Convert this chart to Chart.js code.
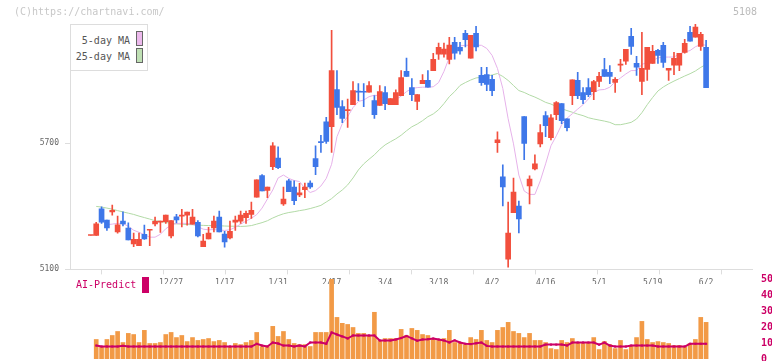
<!DOCTYPE html>
<html>
<head>
<meta charset="utf-8">
<script src="https://cdn.jsdelivr.net/npm/chart.js@4.4.1/dist/chart.umd.min.js"></script>
<style>
  body { margin: 0; width: 772px; height: 361px; overflow: hidden; background: #fff; position: relative; font-family: 'DejaVu Sans Mono', monospace; }
  canvas { position: absolute; left: 0; }
  #c1 { top: 0; }
  #c2 { top: 270px; }
  .t { position: absolute; white-space: nowrap; line-height: 12px; }
  .sw { position: absolute; width: 5px; height: 13px; border: 1px solid #666; }
</style>
</head>
<body>
<canvas id="c1" width="772" height="284"></canvas>
<canvas id="c2" width="772" height="96"></canvas>

<div class="t" style="left:14px;top:6px;font-size:10px;color:#c8c8c8">(C)https://chartnavi.com/</div>
<div class="t" style="left:733px;top:6px;font-size:10px;color:#bbb">5108</div>

<!-- legend box -->
<div style="position:absolute;left:70px;top:24px;width:76px;height:45px;border:1px solid #ddd;background:#fff">
  <div class="t" style="right:17px;top:10px;font-size:10px;color:#555">5-day MA</div>
  <div class="sw" style="left:65px;top:6px;background:#ecb9ec"></div>
  <div class="t" style="right:17px;top:26px;font-size:10px;color:#555">25-day MA</div>
  <div class="sw" style="left:65px;top:23px;background:#bfe0b4"></div>
</div>

<div class="t" style="left:76px;top:279px;font-size:10px;color:#cc0066">AI-Predict</div>
<div style="position:absolute;left:142px;top:277px;width:7px;height:16px;background:#cc0066"></div>

<script>
// 日足 (12/9 〜 6/2)
const open = [5261,5261,5388,5334,5373,5278,5329,5296,5221,5213,
  5267,5286,5316,5324,5326,5259,5349,5353,5358,5315,
  5324,5208,5245,5297,5348,5268,5249,5324,5329,5345,
  5361,5443,5545,5475,5588,5629,5411,5520,5491,5454,
  5478,5510,5626,5707,5801,5777,5954,5873,5854,5882,
  5947,5945,5941,5901,5878,5940,5882,5882,5925,6040,
  5963,5897,5982,5997,6044,6122,6122,6097,6178,6154,
  6221,6103,6221,6021,6025,6002,5702,5539,5148,5369,
  5401,5825,5496,5577,5696,5830,5725,5835,5887,5815,
  5925,5997,5940,5963,5944,5992,6049,6035,5988,6070,
  6089,6207,6078,5992,6049,6078,6140,6164,6046,6070,
  6070,6130,6226,6202,6159,6154];
const high = [5261,5324,5397,5334,5405,5353,5373,5321,5272,5272,
  5310,5289,5348,5329,5358,5332,5361,5385,5372,5385,
  5332,5266,5300,5353,5377,5281,5329,5353,5377,5377,
  5420,5525,5550,5491,5702,5682,5491,5528,5520,5509,
  5510,5520,5687,5736,5822,6235,6044,5901,5909,5992,
  5982,5982,5992,5925,5973,5968,5911,5952,6044,6103,
  6006,5930,6025,6044,6126,6175,6175,6202,6202,6178,
  6235,6211,6254,6059,6059,6021,5753,5596,5420,5534,
  5424,5825,5544,5644,5787,5849,5835,5897,5887,5815,
  6000,6035,5963,6006,5997,6035,6102,6068,6011,6097,
  6145,6245,6111,6226,6154,6164,6145,6178,6054,6130,
  6126,6192,6254,6264,6226,6188];
const low = [5261,5261,5318,5285,5358,5272,5307,5240,5208,5213,
  5242,5213,5307,5276,5318,5249,5321,5302,5310,5315,
  5254,5208,5245,5278,5278,5206,5245,5285,5318,5318,
  5342,5443,5472,5440,5574,5578,5404,5469,5407,5445,
  5440,5485,5550,5655,5698,5655,5835,5796,5774,5882,
  5901,5873,5941,5817,5878,5858,5882,5882,5925,6016,
  5901,5858,5982,5965,6044,6097,6108,6075,6098,6122,
  6156,6103,6137,5973,5949,5925,5655,5401,5111,5369,
  5273,5621,5411,5572,5682,5730,5715,5811,5792,5758,
  5882,5911,5887,5920,5906,5968,6016,5982,5940,6040,
  6073,6121,6021,5930,5997,6078,6078,6059,5997,6025,
  6044,6126,6183,6202,6140,5963];
const close = [5261,5316,5324,5297,5381,5311,5316,5240,5243,5243,
  5245,5289,5328,5329,5358,5332,5335,5358,5372,5348,
  5259,5234,5272,5329,5278,5230,5281,5334,5358,5366,
  5381,5525,5472,5491,5687,5583,5434,5469,5426,5463,
  5491,5491,5588,5702,5707,6044,5869,5817,5857,5949,
  5941,5941,5973,5835,5944,5887,5911,5940,6011,6016,
  5930,5930,5997,5965,6097,6154,6146,6165,6127,6137,
  6191,6211,6156,5987,5978,5949,5715,5491,5272,5467,
  5340,5698,5529,5601,5749,5782,5820,5892,5806,5773,
  6000,5925,5906,5930,5992,6016,6016,6016,6002,6072,
  6145,6159,6060,6055,6154,6135,6116,6083,6054,6102,
  6126,6173,6183,6250,6216,5963];

// 移動平均線 (チャートから読み取り)
const ma5 = [null,null,null,5312,5315,5319,5317,5305,5286,5276,
  5265,5253,5253,5267,5293,5310,5318,5319,5318,5315,
  5303,5291,5288,5289,5287,5285,5288,5300,5315,5329,
  5343,5360,5391,5434,5477,5534,5548,5532,5522,5517,
  5486,5465,5474,5496,5532,5599,5730,5792,5825,5868,
  5897,5904,5920,5927,5923,5909,5905,5905,5923,5944,
  5959,5963,5965,5965,5967,5987,6040,6106,6140,6161,
  6164,6164,6164,6164,6149,6116,6054,5959,5815,5696,
  5548,5472,5456,5456,5520,5601,5687,5734,5787,5818,
  5839,5861,5882,5909,5940,5952,5954,5965,5990,6009,
  6028,6044,6044,6073,6083,6092,6104,6108,6108,6108,
  6123,6132,6139,6157,6168,6164];
const ma25 = [null,5399,5396,5391,5386,5379,5373,5367,5361,5353,
  5346,5339,5331,5328,5323,5319,5316,5315,5313,5312,
  5310,5309,5308,5308,5307,5306,5305,5305,5304,5305,
  5308,5315,5322,5331,5344,5355,5364,5370,5374,5379,
  5383,5389,5396,5404,5420,5436,5458,5477,5501,5534,
  5572,5601,5623,5644,5670,5691,5706,5720,5737,5758,
  5777,5790,5806,5825,5838,5858,5887,5920,5944,5973,
  5987,5999,6009,6012,6018,6023,6030,6016,5997,5973,
  5949,5940,5928,5918,5906,5893,5885,5873,5863,5854,
  5846,5837,5830,5820,5814,5809,5804,5798,5787,5787,
  5792,5798,5814,5844,5882,5916,5947,5966,5981,5994,
  6006,6018,6029,6042,6059,6073];

// 出来高 と AI-Predict
const volume = [null,12.2,7.8,12.2,14.7,17.2,10.3,16,15.3,10.3,
  17.9,9.7,9.7,10.3,15.3,16.6,13.4,14.7,10.9,13.4,
  11.6,12.2,12.8,10.9,11.6,10.3,7.8,9.7,9,10.3,
  11.6,16.6,7.8,7.8,20.4,14.1,17.2,12.2,9.7,9,
  9,7.8,16.6,16.6,16.6,51,26,22.3,21.6,19.7,
  16,16,14.7,29.2,11.6,12.8,12.8,12.8,18.5,14.7,
  19.1,17.9,15.3,14.7,12.2,11.6,12.8,17.9,10.3,10.3,
  9,13.4,12.2,17.9,11.6,10.3,17.9,19.7,22.9,17.2,
  16,13.4,16,11.6,11.6,10.3,6.5,5.9,11.6,10.3,
  12.8,10.3,10.3,10.3,13.4,5.9,10.9,9,6.5,11.6,
  5.9,8.4,13.4,23.5,12.2,10.3,10.9,10.3,9.7,8.4,
  8.4,7.8,9.7,12.2,26,22.9];
const aiPredict = [null,8.4,7.8,7.8,7.8,7.8,8.2,7.8,7.8,7.8,
  7.8,7.8,7.8,7.8,7.8,7.8,7.8,7.8,7.8,7.8,
  7.8,7.8,7.8,7.8,7.8,7.8,7.8,7.8,7.8,7.8,
  7.8,9.5,8.4,7.8,10.3,9.7,8.4,8.4,7.8,8.4,
  7.8,10.3,10.3,10.3,9.5,16.6,15.3,14.1,12.8,14.7,
  14.7,14.7,14.7,14.7,11.6,11.6,11.6,12.2,13.1,14.4,
  12.9,11.4,12.2,12.4,12.8,12.2,11.6,10.3,11.6,10.3,
  9.5,9.3,9.8,10.3,8.2,7.8,7.8,7.8,7.8,7.8,
  7.8,7.8,7.8,7.8,7.8,9,9,9,9,8.4,
  10.3,10.3,10.3,10.3,10.3,9,10.3,8.4,7.8,7.8,
  7.8,8.4,8.4,8.4,8.4,8.4,7.8,7.8,7.8,7.8,
  7.8,7.8,9.5,9.5,9.5,9.5];

// 軸ラベル
const labelIdx = [15, 25, 35, 45, 55, 65, 75, 85, 95, 105, 115];
const tickLabels = ['12/27', '1/17', '1/31', '2/17', '3/4', '3/18', '4/2', '4/16', '5/1', '5/19', '6/2'];
const priceTicks = [5100, 5700];
const volTicks = [0, 10, 20, 30, 40, 50];

const xMin = -3.9, xMax = 123.58;
const mono = 'DejaVu Sans Mono';
const RED = '#f24f3d', BLUE = '#3e77e9';
const idx = close.map((c, i) => i);
const cor = idx.map(i => close[i] >= open[i] ? RED : BLUE);

// ローソク足チャート
new Chart(document.getElementById('c1'), {
  type: 'bar',
  data: {
    datasets: [
      { type: 'bar', label: 'body', data: idx.map(i => ({ x: i, y: [open[i], close[i]] })),
        backgroundColor: cor, barThickness: 5, minBarLength: 1, grouped: false, xAxisID: 'x', yAxisID: 'y' },
      { type: 'bar', label: 'wick', data: idx.map(i => ({ x: i, y: [low[i], high[i]] })),
        backgroundColor: cor, barThickness: 1, grouped: false, xAxisID: 'x', yAxisID: 'y' },
      { type: 'line', label: '5-day MA', data: idx.map(i => ({ x: i, y: ma5[i] })),
        borderColor: '#e6b2ea', borderWidth: 1, pointRadius: 0, tension: 0, xAxisID: 'x', yAxisID: 'y' },
      { type: 'line', label: '25-day MA', data: idx.map(i => ({ x: i, y: ma25[i] })),
        borderColor: '#b2daa6', borderWidth: 1, pointRadius: 0, tension: 0, xAxisID: 'x', yAxisID: 'y' }
    ]
  },
  options: {
    responsive: false,
    animation: false,
    layout: { padding: { left: 0, right: 20, top: 24, bottom: 0 } },
    plugins: { legend: { display: false }, tooltip: { enabled: false } },
    scales: {
      x: {
        type: 'linear', position: 'bottom', min: xMin, max: xMax, offset: false, weight: 1,
        grid: { display: false }, border: { display: false },
        afterBuildTicks: s => { s.ticks = labelIdx.map(v => ({ value: v })); },
        ticks: { autoSkip: false, maxRotation: 0, padding: -4, color: '#666', font: { family: mono, size: 8 },
          callback: v => tickLabels[labelIdx.indexOf(v)] }
      },
      xt: {
        type: 'linear', position: 'bottom', min: xMin, max: xMax, offset: false, weight: 0,
        grid: { drawOnChartArea: false, tickLength: 5, color: '#ddd' }, border: { color: '#ddd' },
        ticks: { display: false },
        afterBuildTicks: s => {
          const t = [];
          for (let k = 0; k <= 11; k++) t.push({ value: xMin + k * (xMax - xMin) / 11 });
          s.ticks = t;
        }
      },
      y: {
        type: 'linear', position: 'left', min: 5100, max: 6265,
        afterBuildTicks: s => { s.ticks = priceTicks.map(v => ({ value: v })); },
        afterFit: s => { s.width = 70; },
        grid: { drawOnChartArea: false, tickLength: 5, color: '#ddd' }, border: { color: '#ddd' },
        ticks: { padding: 6, color: '#666', font: { family: mono, size: 8 }, callback: v => String(v) }
      }
    }
  }
});

// 出来高チャート
new Chart(document.getElementById('c2'), {
  type: 'bar',
  data: {
    datasets: [
      { type: 'line', label: 'AI-Predict', data: idx.map(i => ({ x: i, y: aiPredict[i] })),
        borderColor: '#cc0066', borderWidth: 2, pointStyle: 'rect', pointRadius: 1.5,
        pointBackgroundColor: '#cc0066', pointBorderWidth: 0, tension: 0, yAxisID: 'yv' },
      { type: 'bar', label: 'Volume', data: idx.map(i => ({ x: i, y: volume[i] })),
        backgroundColor: '#f29a46', barThickness: 4, grouped: false, yAxisID: 'yv' }
    ]
  },
  options: {
    responsive: false,
    animation: false,
    layout: { padding: { left: 70, right: 0, top: 9, bottom: 2 } },
    plugins: { legend: { display: false }, tooltip: { enabled: false } },
    scales: {
      x: { type: 'linear', display: false, min: xMin, max: xMax, offset: false },
      yv: {
        type: 'linear', position: 'right', min: 0, max: 50,
        afterBuildTicks: s => { s.ticks = volTicks.map(v => ({ value: v })); },
        afterFit: s => { s.width = 20; },
        grid: { display: false }, border: { display: false },
        ticks: { padding: 1, color: '#cc0066', font: { family: mono, size: 10, weight: 'bold' } }
      }
    }
  }
});
</script>
</body>
</html>
